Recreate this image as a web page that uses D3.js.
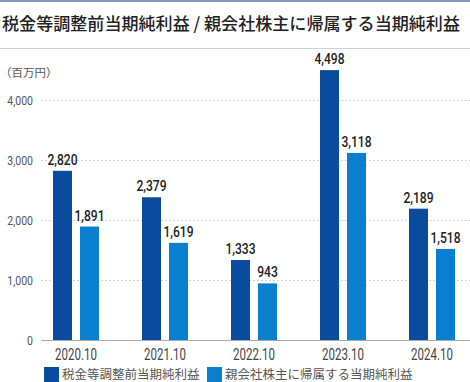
<!DOCTYPE html>
<html><head><meta charset="utf-8">
<script src="https://cdn.jsdelivr.net/npm/d3@7"></script>
<style>
html,body{margin:0;padding:0;background:#fff;}
svg{display:block;}
.cjk{font-family:"Noto Sans CJK JP","Noto Sans",sans-serif;}
.num{font-family:"Roboto","Liberation Sans",sans-serif;}
</style></head>
<body>
<svg id="chart" width="470" height="382"></svg>
<script>
const title = "税金等調整前当期純利益 / 親会社株主に帰属する当期純利益";
const unitLabel = "（百万円）";
const categories = ["2020.10","2021.10","2022.10","2023.10","2024.10"];
const seriesNames = ["税金等調整前当期純利益","親会社株主に帰属する当期純利益"];
const seriesColors = ["#0b4b9d","#0a7fcf"];
const pretaxIncome = [2820, 2379, 1333, 4498, 2189];
const parentIncome = [1891, 1619, 943, 3118, 1518];
const yTicks = [0, 1000, 2000, 3000, 4000];

const svg = d3.select("#chart");
const fmt = d3.format(",");

// header lines
svg.append("rect").attr("x",0).attr("y",0).attr("width",470).attr("height",2).attr("fill","#8797bd");
svg.append("rect").attr("x",0).attr("y",48).attr("width",470).attr("height",1).attr("fill","#c9d0e2");
svg.append("text").attr("class","cjk").attr("x",2).attr("y",30)
  .attr("font-size",17).attr("font-weight",500).attr("fill","#222")
  .attr("textLength",458).attr("lengthAdjust","spacingAndGlyphs")
  .text(title);

svg.append("text").attr("class","cjk").attr("x",0).attr("y",76.5)
  .attr("font-size",11.5).attr("fill","#555").text(unitLabel);

const y = d3.scaleLinear().domain([0,4000]).range([340,100]);
const x0 = d3.scaleBand().domain(categories).range([31.5,476.5]);
const x1 = d3.scaleBand().domain([0,1]).range([-23,23]).paddingInner(2-46/27);

// gridlines
svg.append("g").selectAll("line").data(yTicks.filter(d=>d>0)).join("line")
  .attr("x1",41).attr("x2",470).attr("y1",d=>y(d)+0.5).attr("y2",d=>y(d)+0.5)
  .attr("stroke","#d4d4d4").attr("stroke-dasharray","2,2");

// y axis labels (condensed)
const yAxis = d3.axisLeft(y).tickValues(yTicks).tickSize(0).tickPadding(0).tickFormat(fmt);
const ya = svg.append("g").attr("transform","translate(33,0)").call(yAxis);
ya.select(".domain").remove();
ya.selectAll(".tick text")
  .attr("class","num").attr("font-size",13.5).attr("fill","#555")
  .attr("x",0).attr("dy","0.36em").attr("transform","scale(0.78,1)");

// bars
const data = categories.map((c,i)=>({c, vals:[pretaxIncome[i], parentIncome[i]]}));
const groups = svg.append("g").selectAll("g").data(data).join("g")
  .attr("transform",d=>`translate(${x0(d.c)+x0.bandwidth()/2},0)`);
groups.selectAll("rect").data(d=>d.vals.map((v,k)=>({v,k}))).join("rect")
  .attr("x",d=>x1(d.k)).attr("width",x1.bandwidth())
  .attr("y",d=>y(d.v)).attr("height",d=>y(0)-y(d.v))
  .attr("fill",d=>seriesColors[d.k]);
groups.selectAll("text").data(d=>d.vals.map((v,k)=>({v,k}))).join("text")
  .attr("class","num")
  .attr("transform",d=>`translate(${x1(d.k)+x1.bandwidth()/2},${y(d.v)-6}) scale(0.78,1)`)
  .attr("text-anchor","middle").attr("font-size",15.5).attr("font-weight",500)
  .attr("fill","#222").text(d=>fmt(d.v));

// baseline
svg.append("line").attr("x1",41).attr("x2",470).attr("y1",340.5).attr("y2",340.5)
  .attr("stroke","#aaa").attr("stroke-width",1);

// x axis
const xAxis = d3.axisBottom(x0).tickSize(0).tickPadding(0);
const xa = svg.append("g").attr("transform","translate(0,360)").call(xAxis);
xa.select(".domain").remove();
xa.selectAll(".tick text").attr("class","num").attr("font-size",16).attr("fill","#444")
  .attr("y",0).attr("dy",0).attr("transform","scale(0.72,1)");

// legend
const legX = [44, 207];
const leg = svg.append("g").selectAll("g").data(seriesNames).join("g")
  .attr("transform",(d,i)=>`translate(${legX[i]},367)`);
leg.append("rect").attr("width",15).attr("height",15).attr("fill",(d,i)=>seriesColors[i]);
leg.append("text").attr("class","cjk").attr("x",18).attr("y",12)
  .attr("font-size",12.5).attr("fill","#555").text(d=>d);
</script>
</body></html>
